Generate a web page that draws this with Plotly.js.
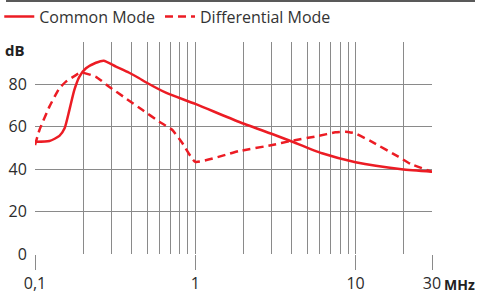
<!DOCTYPE html>
<html>
<head>
<meta charset="utf-8">
<script src="https://cdn.plot.ly/plotly-3.0.1.min.js"></script>
<style>html,body{margin:0;padding:0;background:#fff;}#chart{width:479px;height:296px;}</style>
</head>
<body>
<div id="chart"></div>
<script>
// Common Mode attenuation (dB) vs frequency (MHz)
const cmFreq = [0.1, 0.123, 0.142, 0.153, 0.164, 0.176, 0.189, 0.208, 0.24, 0.268, 0.32, 0.387, 0.447, 0.492, 0.655, 1.0, 1.865, 3.02, 3.93, 6.18, 10, 19.4, 30];
const cmDb   = [53, 53.3, 55.7, 59.3, 68, 77.4, 83.6, 87.6, 90.2, 91.2, 88.4, 85.5, 82.9, 81, 76.1, 70.8, 62.4, 56.6, 53.3, 47.5, 43.3, 40, 38.8];
// Differential Mode attenuation (dB) vs frequency (MHz)
const dmFreq = [0.1, 0.1066, 0.123, 0.142, 0.156, 0.18, 0.194, 0.24, 0.29, 0.369, 0.469, 0.596, 0.72, 0.832, 1.0, 1.865, 3.02, 3.93, 5.87, 7.48, 8.64, 9.95, 12.6, 18.5, 22, 30];
const dmDb   = [51.4, 58.5, 69.5, 78.2, 81.3, 84.4, 85.7, 83.6, 78.9, 73.4, 67.9, 62.4, 58.5, 52.2, 43.5, 48.5, 51.4, 53.3, 55.7, 57.4, 57.7, 56.9, 53, 45.9, 42.5, 38.8];

const xTickVals = [0.1, 1, 10, 30];
const xTickText = ['0,1', '1', '10', '30'];
const xMinorVals = [0.2,0.3,0.4,0.5,0.6,0.7,0.8,0.9,2,3,4,5,6,7,8,9,20];
const yTickVals = [0, 20, 40, 60, 80, 100];
const yTickText = ['0', '20', '40', '60', '80', ''];

const red = '#ec1c24';
const grid = '#8a8a8a';
const fontFam = '"Open Sans", "Noto Sans", sans-serif';

const traces = [
  {x: cmFreq, y: cmDb, name: 'Common Mode', mode: 'lines',
   line: {color: red, width: 2.5, shape: 'spline', smoothing: 0.6}},
  {x: dmFreq, y: dmDb, name: 'Differential Mode', mode: 'lines',
   line: {color: red, width: 2.5, dash: '8px,5px', shape: 'spline', smoothing: 0.4}}
];

const layout = {
  width: 479, height: 296,
  margin: {l: 35, r: 47, t: 42, b: 42, autoexpand: false},
  paper_bgcolor: '#fff', plot_bgcolor: '#fff',
  font: {family: fontFam, size: 16, color: '#2b2b2b'},
  showlegend: true,
  legend: {orientation: 'h', x: -0.09, xanchor: 'left', y: 1.12, yanchor: 'middle',
           font: {size: 16, color: '#333'}, bgcolor: 'rgba(0,0,0,0)', tracegroupgap: 0},
  xaxis: {type: 'log', range: [-1, Math.log10(30)], tickmode: 'array', tickvals: xTickVals, ticktext: xTickText,
          showgrid: true, gridcolor: grid, gridwidth: 1, ticks: 'outside', ticklen: 15, tickcolor: grid, tickwidth: 1,
          zeroline: false, showline: false, tickfont: {size: 16},
          minor: {tickmode: 'array', tickvals: xMinorVals, showgrid: true, gridcolor: grid, gridwidth: 1, ticks: ''}},
  yaxis: {range: [0, 100], tickmode: 'array', tickvals: yTickVals, ticktext: yTickText,
          showgrid: true, gridcolor: grid, gridwidth: 1, zeroline: false, showline: false,
          ticks: 'outside', ticklen: 4, tickcolor: 'rgba(0,0,0,0)', tickfont: {size: 16}},
  shapes: [
    {type: 'line', xref: 'paper', yref: 'paper', x0: -0.0730, x1: 1.1083, y0: 1.193, y1: 1.193,
     line: {color: '#222', width: 1.5}}
  ],
  annotations: [
    {text: '<b>dB</b>', xref: 'paper', yref: 'paper', x: -0.021, y: 0.96, xanchor: 'right', yanchor: 'middle',
     showarrow: false, font: {size: 15, color: '#222'}},
    {text: '<b>MHz</b>', xref: 'paper', yref: 'paper', x: 1.025, y: -0.145, xanchor: 'left', yanchor: 'middle',
     showarrow: false, font: {size: 14, color: '#222'}}
  ]
};

Plotly.newPlot('chart', traces, layout, {staticPlot: true, displayModeBar: false});
</script>
</body>
</html>
